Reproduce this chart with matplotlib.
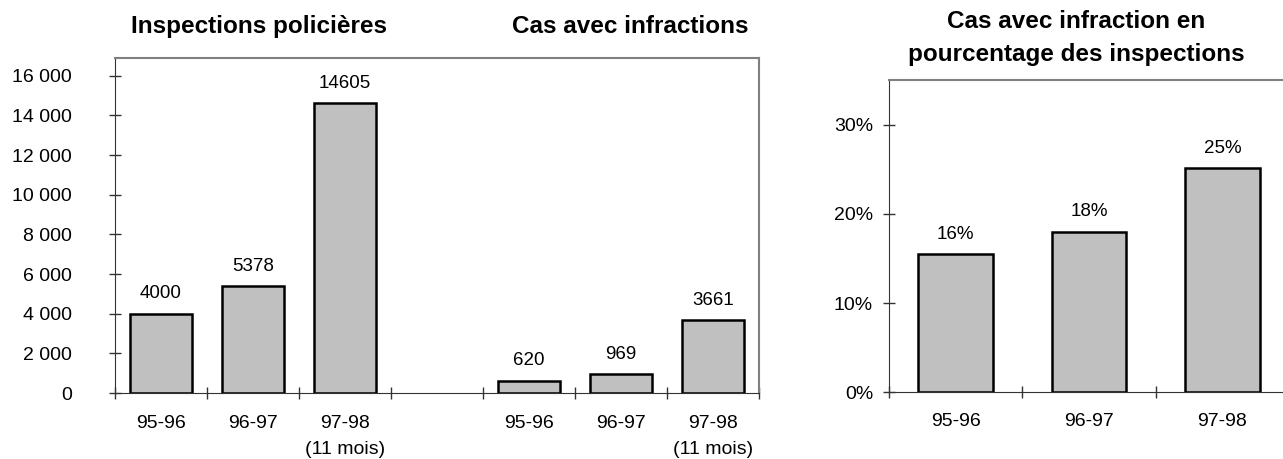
import matplotlib
matplotlib.use('Agg')
import matplotlib.pyplot as plt
from matplotlib.ticker import FuncFormatter, FixedLocator

plt.rcParams['font.family'] = ['Liberation Sans', 'DejaVu Sans']

# data
years = ['95-96', '96-97', '97-98\n(11 mois)']
inspections = [4000, 5378, 14605]
infractions = [620, 969, 3661]
pct_years = ['95-96', '96-97', '97-98']
pct = [15.5, 18.0, 25.1]
pct_labels = ['16%', '18%', '25%']

W, H = 1283, 459
fig = plt.figure(figsize=(W / 100, H / 100), dpi=100)

bar_fill = '#c0c0c0'
dark = '#333333'
light = '#808080'

# left panel: inspections + infractions on one axis, empty slot between
ax = fig.add_axes([115 / W, 1 - 393 / H, 644 / W, 335 / H])
pos_a = [0, 1, 2]
pos_b = [4, 5, 6]
ax.bar(pos_a, inspections, width=0.67, color=bar_fill, edgecolor='black', linewidth=1.8)
ax.bar(pos_b, infractions, width=0.67, color=bar_fill, edgecolor='black', linewidth=1.8)
for x, v in zip(pos_a + pos_b, inspections + infractions):
    ax.annotate(str(v), (x, v), xytext=(0, 11), textcoords='offset points',
                ha='center', va='baseline', fontsize=13.5)
ax.set_xlim(-0.5, 6.5)
ax.set_ylim(0, 16900)
ax.set_yticks(range(0, 16001, 2000))
ax.yaxis.set_major_formatter(FuncFormatter(lambda v, p: f'{int(v):,}'.replace(',', ' ')))
ax.xaxis.set_major_locator(FixedLocator([i - 0.5 for i in range(8)]))
ax.xaxis.set_minor_locator(FixedLocator(pos_a + pos_b))
ax.set_xticklabels([], minor=False)
ax.set_xticklabels(years + years, minor=True)
ax.tick_params(axis='y', direction='inout', length=8, width=1, color=dark, pad=27, labelsize=14)
ax.tick_params(axis='x', which='major', direction='inout', length=9, width=1, color=dark)
ax.tick_params(axis='x', which='minor', length=0, pad=15.5, labelsize=14)
for lbl in ax.get_xticklabels(minor=True):
    lbl.set_linespacing(1.7)
ax.spines['left'].set_color(dark)
ax.spines['bottom'].set_color(dark)
ax.spines['top'].set_color(light)
ax.spines['right'].set_color(light)
ax.spines['top'].set_linewidth(1.5)
ax.spines['right'].set_linewidth(1.5)

# right panel: percentage
ax2 = fig.add_axes([889 / W, 1 - 392.3 / H, 400 / W, 312.3 / H])
ax2.bar(range(3), pct, width=0.56, color=bar_fill, edgecolor='black', linewidth=1.8)
for x, v, t in zip(range(3), pct, pct_labels):
    ax2.annotate(t, (x, v), xytext=(0, 11), textcoords='offset points',
                 ha='center', va='baseline', fontsize=13.5)
ax2.set_xlim(-0.5, 2.5)
ax2.set_ylim(0, 35)
ax2.set_yticks([0, 10, 20, 30])
ax2.set_yticklabels(['0%', '10%', '20%', '30%'])
ax2.xaxis.set_major_locator(FixedLocator([-0.5, 0.5, 1.5, 2.5]))
ax2.xaxis.set_minor_locator(FixedLocator([0, 1, 2]))
ax2.set_xticklabels([], minor=False)
ax2.set_xticklabels(pct_years, minor=True)
ax2.tick_params(axis='y', direction='inout', length=9, width=1, color=dark, pad=7, labelsize=14)
ax2.tick_params(axis='x', which='major', direction='inout', length=9, width=1, color=dark)
ax2.tick_params(axis='x', which='minor', length=0, pad=15, labelsize=14)
ax2.spines['left'].set_color(dark)
ax2.spines['bottom'].set_color(dark)
ax2.spines['top'].set_color(light)
ax2.spines['top'].set_linewidth(1.5)
ax2.spines['right'].set_visible(False)

# titles
fig.text(259 / W, 1 - 33 / H, 'Inspections policières', ha='center', va='baseline',
         fontsize=17.5, fontweight='bold')
fig.text(630 / W, 1 - 33 / H, 'Cas avec infractions', ha='center', va='baseline',
         fontsize=17.5, fontweight='bold')
fig.text(1076 / W, 1 - 28 / H, 'Cas avec infraction en', ha='center', va='baseline',
         fontsize=17.5, fontweight='bold')
fig.text(1076 / W, 1 - 61 / H, 'pourcentage des inspections', ha='center', va='baseline',
         fontsize=17.5, fontweight='bold')

fig.savefig('out.png', dpi=100)
